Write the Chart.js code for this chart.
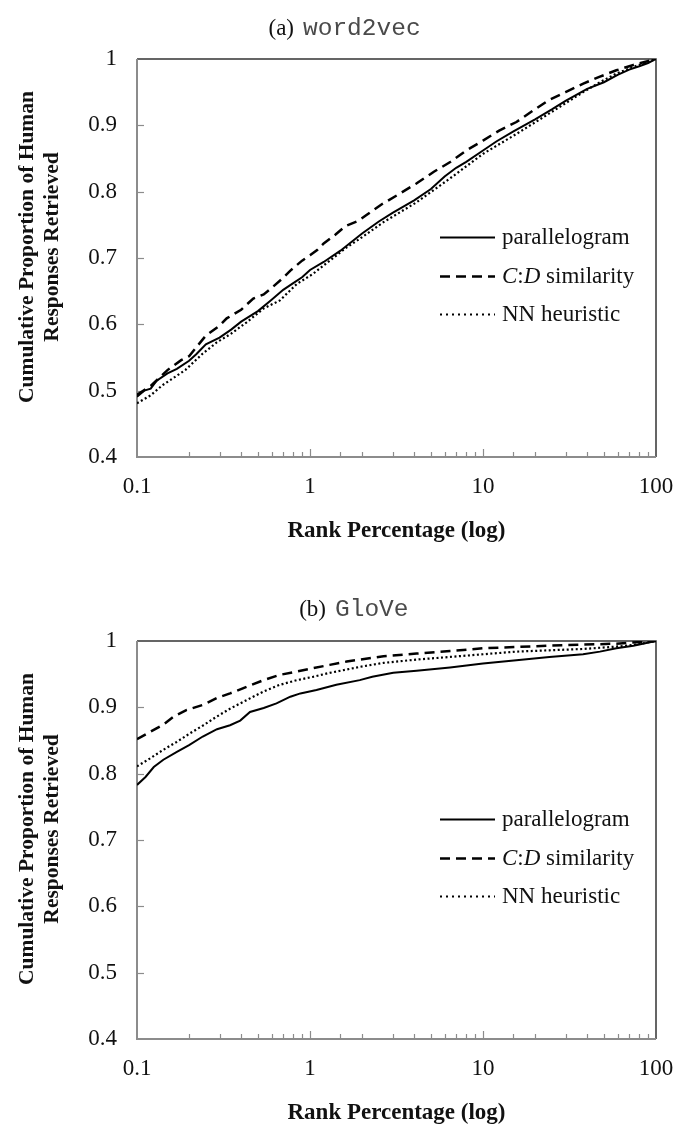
<!DOCTYPE html>
<html><head><meta charset="utf-8">
<script src="https://cdn.jsdelivr.net/npm/chart.js@4.4.1/dist/chart.umd.min.js"></script>
<style>
html,body{margin:0;padding:0;background:#fff;}
canvas{display:block}
</style></head><body>
<canvas id="c1" width="690" height="582"></canvas>
<canvas id="c2" width="690" height="543"></canvas>
<script>
// ---- tick labels ----
const xTickLabels = [0.1, 1, 10, 100];
const yTickLabels = [0.4, 0.5, 0.6, 0.7, 0.8, 0.9, 1];
const seriesNames = ['parallelogram', 'C:D similarity', 'NN heuristic'];

// ---- (a) word2vec ----
const w2vParaX = [0.1,0.11,0.12,0.13,0.15,0.17,0.2,0.22,0.25,0.3,0.35,0.4,0.5,0.6,0.7,0.8,0.9,1,1.2,1.5,2,2.5,3,4,5,6,7,8,10,12,15,20,25,30,40,50,60,70,80,90,100];
const w2vParaY = [0.491,0.500,0.503,0.515,0.526,0.533,0.545,0.555,0.570,0.580,0.592,0.604,0.620,0.637,0.652,0.662,0.671,0.682,0.694,0.711,0.737,0.755,0.768,0.787,0.804,0.823,0.836,0.845,0.862,0.876,0.891,0.909,0.924,0.937,0.955,0.965,0.976,0.984,0.989,0.994,1.0];
const w2vCDX = [0.1,0.12,0.15,0.18,0.2,0.25,0.3,0.33,0.4,0.47,0.54,0.6,0.7,0.77,0.9,1,1.1,1.2,1.4,1.6,1.9,2.1,2.6,3.3,4.1,5.2,6.5,8,10,12.4,15.6,19.4,24,30,38,47,59,74,100];
const w2vCDY = [0.494,0.507,0.531,0.546,0.552,0.583,0.598,0.609,0.622,0.639,0.645,0.655,0.670,0.681,0.696,0.704,0.712,0.722,0.735,0.748,0.756,0.764,0.781,0.797,0.812,0.830,0.845,0.862,0.877,0.892,0.905,0.922,0.938,0.950,0.963,0.973,0.983,0.991,1.0];
const w2vNNX = [0.1,0.12,0.14,0.19,0.24,0.29,0.35,0.43,0.54,0.67,0.84,1.04,1.3,1.63,1.94,2.66,4.13,6.45,10,15.6,24.2,37.9,47.4,59,74,100];
const w2vNNY = [0.481,0.493,0.508,0.531,0.556,0.573,0.586,0.603,0.624,0.636,0.661,0.676,0.696,0.716,0.729,0.754,0.784,0.820,0.857,0.887,0.918,0.950,0.965,0.978,0.988,1.0];

// ---- (b) GloVe ----
const gloParaX = [0.1,0.112,0.125,0.142,0.17,0.2,0.24,0.29,0.345,0.395,0.45,0.54,0.64,0.77,0.88,1.09,1.42,1.94,2.29,3.03,4.13,6.45,10,15.6,24.2,37.9,47.4,59,74,100];
const gloParaY = [0.783,0.795,0.810,0.821,0.833,0.843,0.856,0.867,0.873,0.880,0.893,0.899,0.906,0.916,0.921,0.926,0.934,0.941,0.946,0.952,0.955,0.960,0.966,0.971,0.976,0.980,0.984,0.989,0.993,1.0];
const gloCDX = [0.1,0.119,0.142,0.163,0.194,0.242,0.289,0.345,0.431,0.54,0.67,0.84,1.04,1.3,1.63,1.94,2.66,4.13,6.45,10,15.6,24.2,37.9,59,100];
const gloCDY = [0.852,0.863,0.874,0.886,0.896,0.904,0.914,0.921,0.931,0.941,0.949,0.954,0.959,0.964,0.969,0.972,0.977,0.981,0.985,0.989,0.991,0.993,0.9945,0.996,1.0];
const gloNNX = [0.1,0.119,0.142,0.17,0.203,0.242,0.289,0.345,0.431,0.54,0.67,0.84,1.04,1.3,1.63,1.94,2.66,4.13,6.45,10,15.6,24.2,37.9,59,74,100];
const gloNNY = [0.811,0.823,0.836,0.848,0.861,0.873,0.886,0.898,0.911,0.924,0.934,0.941,0.946,0.952,0.957,0.961,0.967,0.972,0.976,0.980,0.984,0.986,0.988,0.9915,0.994,1.0];

const SERIF = '"Liberation Serif","Times New Roman",serif';
const MONO = '"Liberation Mono","Courier New",monospace';
const INK = '#111';
const LINE = '#000';
const AXIS_GRAY = '#8c8c8c';
const styles = [
  {dash: [], width: 2},
  {dash: [10, 6], width: 2.5},
  {dash: [2, 2.5], width: 2.2}
];

function pts(xs, ys){ return xs.map((x,i)=>({x:x, y:ys[i]})); }

const decor = {
  id: 'decor',
  beforeDatasetsDraw(chart){
    const ctx = chart.ctx, ca = chart.chartArea;
    const xs = chart.scales.x, ys = chart.scales.y;
    ctx.save();
    // top & right borders (dark)
    ctx.strokeStyle = '#333'; ctx.lineWidth = 1.5;
    ctx.beginPath();
    ctx.moveTo(ca.left, ca.top); ctx.lineTo(ca.right, ca.top); ctx.lineTo(ca.right, ca.bottom);
    ctx.stroke();
    // left & bottom axes (gray)
    ctx.strokeStyle = AXIS_GRAY; ctx.lineWidth = 2;
    ctx.beginPath();
    ctx.moveTo(ca.left, ca.top); ctx.lineTo(ca.left, ca.bottom); ctx.lineTo(ca.right, ca.bottom);
    ctx.stroke();
    ctx.lineWidth = 1.2;
    // y ticks inside
    ys.ticks.forEach(t=>{
      const p = Math.round(ys.getPixelForValue(t.value)) + 0.5;
      if (Math.abs(p - ca.top) < 2 || Math.abs(p - ca.bottom) < 2) return;
      ctx.beginPath(); ctx.moveTo(ca.left, p); ctx.lineTo(ca.left + 7, p); ctx.stroke();
    });
    // x ticks inside (log minor/major)
    xs.ticks.forEach(t=>{
      const p = Math.round(xs.getPixelForValue(t.value)) + 0.5;
      if (Math.abs(p - ca.left) < 2 || Math.abs(p - ca.right) < 2) return;
      const l = Math.log10(t.value);
      const major = Math.abs(l - Math.round(l)) < 1e-6;
      ctx.beginPath(); ctx.moveTo(p, ca.bottom); ctx.lineTo(p, ca.bottom - (major ? 8 : 5)); ctx.stroke();
    });
    ctx.restore();
  },
  afterDraw(chart){
    const o = chart.options.plugins.decor;
    const ctx = chart.ctx, ca = chart.chartArea;
    ctx.save();
    ctx.fillStyle = INK;
    // title: serif label + monospace name
    ctx.textBaseline = 'alphabetic';
    ctx.font = '23px ' + SERIF;
    ctx.textAlign = 'right';
    ctx.fillText(o.label, o.splitX - 9, o.titleY);
    ctx.font = '24.5px ' + MONO;
    ctx.textAlign = 'left';
    ctx.fillStyle = '#4a4a4a';
    ctx.fillText(o.name, o.splitX, o.titleY);
    ctx.fillStyle = INK;
    // x title
    ctx.font = 'bold 23px ' + SERIF;
    ctx.textAlign = 'center';
    ctx.fillText('Rank Percentage (log)', (ca.left + ca.right) / 2, 537);
    // y title (rotated, two lines)
    ctx.save();
    ctx.translate(0, 247);
    ctx.rotate(-Math.PI / 2);
    ctx.font = 'bold 21.5px ' + SERIF;
    ctx.textAlign = 'center';
    ctx.textBaseline = 'middle';
    ctx.fillText('Cumulative Proportion of Human', 0, 27);
    ctx.fillText('Responses Retrieved', 0, 52);
    ctx.restore();
    // legend
    const rows = [237, 276, 314];
    chart.data.datasets.forEach((ds, i)=>{
      const y = rows[i];
      ctx.save();
      ctx.strokeStyle = LINE;
      ctx.lineWidth = ds.borderWidth;
      ctx.setLineDash(i === 2 ? [2, 4] : ds.borderDash);
      ctx.beginPath(); ctx.moveTo(440, y + 0.5); ctx.lineTo(495, y + 0.5); ctx.stroke();
      ctx.restore();
      ctx.textAlign = 'left';
      ctx.textBaseline = 'middle';
      let x = 502;
      const parts = i === 1
        ? [['C', true], [':', false], ['D', true], [' similarity', false]]
        : [[ds.label, false]];
      parts.forEach(([txt, it])=>{
        ctx.font = (it ? 'italic ' : '') + '23px ' + SERIF;
        ctx.fillText(txt, x, y + 1);
        x += ctx.measureText(txt).width;
      });
    });
    ctx.restore();
  }
};

function makeChart(id, height, label, name, splitX, titleY, series){
  return new Chart(document.getElementById(id), {
    type: 'line',
    data: {
      datasets: series.map((s, i)=>({
        label: seriesNames[i],
        data: pts(s[0], s[1]),
        borderColor: LINE,
        borderWidth: styles[i].width,
        borderDash: styles[i].dash,
        pointRadius: 0,
        tension: 0,
        fill: false
      }))
    },
    options: {
      responsive: false,
      animation: false,
      devicePixelRatio: 1,
      layout: {padding: {top: 59, right: 34, left: 0, bottom: 0}},
      plugins: {
        legend: {display: false},
        tooltip: {enabled: false},
        decor: {label: label, name: name, splitX: splitX, titleY: titleY}
      },
      scales: {
        x: {
          type: 'logarithmic',
          min: xTickLabels[0],
          max: xTickLabels[xTickLabels.length - 1],
          grid: {display: false, drawTicks: false},
          border: {display: false},
          ticks: {
            autoSkip: false, maxRotation: 0, padding: 16,
            color: INK, font: {family: SERIF, size: 23},
            callback: (v)=> xTickLabels.some(t => Math.abs(t - v) < 1e-9) ? String(v) : ''
          },
          afterFit: (s)=>{ s.height = height - 457; }
        },
        y: {
          min: yTickLabels[0],
          max: yTickLabels[yTickLabels.length - 1],
          grid: {display: false, drawTicks: false},
          border: {display: false},
          ticks: {
            stepSize: 0.1, padding: 20,
            color: INK, font: {family: SERIF, size: 23},
            callback: (v)=> String(Math.round(v * 10) / 10)
          },
          afterFit: (s)=>{ s.width = 137; }
        }
      }
    },
    plugins: [decor]
  });
}

makeChart('c1', 582, '(a)', 'word2vec', 303, 35,
  [[w2vParaX, w2vParaY], [w2vCDX, w2vCDY], [w2vNNX, w2vNNY]]);
makeChart('c2', 543, '(b)', 'GloVe', 335, 34,
  [[gloParaX, gloParaY], [gloCDX, gloCDY], [gloNNX, gloNNY]]);
</script>
</body></html>
